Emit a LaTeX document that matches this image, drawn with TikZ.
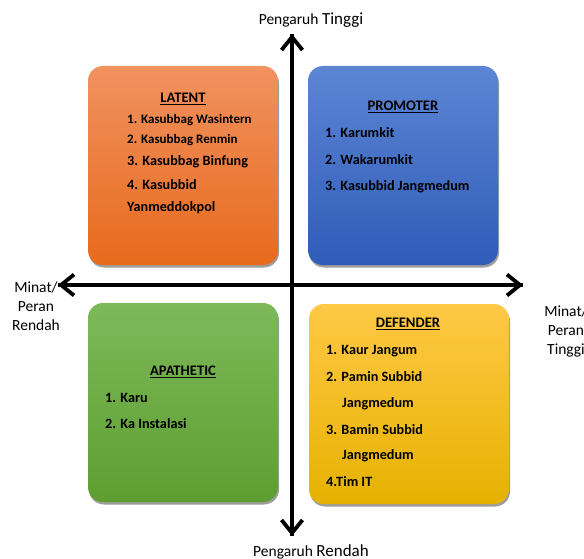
\documentclass[tikz,border=0pt]{standalone}
\usepackage{fontspec}
\setmainfont{Carlito}
\usetikzlibrary{arrows.meta,shadows}
\begin{document}
\begin{tikzpicture}[x=1pt,y=-1pt,
  quad/.style={rounded corners=15pt, minimum width=190pt, minimum height=199pt, inner sep=0pt,
    drop shadow={shadow xshift=1pt, shadow yshift=-2.5pt, opacity=0.55, fill=black!70}},
  ttl/.style={font=\bfseries\fontsize{14.6}{16}\selectfont, inner sep=0pt},
  itm/.style={font=\bfseries\fontsize{14.2}{16}\selectfont, anchor=west, inner sep=0pt},
  itms/.style={font=\bfseries\fontsize{13}{15}\selectfont, anchor=west, inner sep=0pt},
  axlbl/.style={font=\fontsize{15.5}{19}\selectfont, inner sep=0pt, align=center},
  axis/.style={line width=3.8pt, -{Straight Barb[length=13pt,width=21pt,line width=3.8pt]}, shorten >=0pt}
]
\useasboundingbox (0,0) rectangle (584,559);
% boxes
\node[quad, top color={rgb,255:red,241;green,146;blue,96}, bottom color={rgb,255:red,232;green,106;blue,28}] (lat) at (183,165.5) {};
\node[quad, top color={rgb,255:red,92;green,133;blue,212}, bottom color={rgb,255:red,47;green,92;blue,184}] (pro) at (403,165.5) {};
\node[quad, top color={rgb,255:red,125;green,185;blue,90}, bottom color={rgb,255:red,94;green,158;blue,48}] (apa) at (183,402.5) {};
\node[quad, minimum width=200pt, minimum height=200pt, top color={rgb,255:red,255;green,200;blue,70}, bottom color={rgb,255:red,230;green,178;blue,0}] (def) at (409,404) {};
% axes
\coordinate (vt) at (292,34);
\coordinate (vb) at (292,536);
\coordinate (hl) at (58,285);
\coordinate (hr) at (523,285);
\draw[axis] (vb) -- (vt);
\draw[axis] (vt) -- (vb);
\draw[axis] (hr) -- (hl);
\draw[axis] (hl) -- (hr);
% axis labels
\node[axlbl, anchor=base] (top) at (311,25) {{\fontsize{15.5}{17}\selectfont Pengaruh} {\fontsize{17}{19}\selectfont Tinggi}};
\node[axlbl, anchor=base] (bot) at (311,556) {{\fontsize{15.5}{17}\selectfont Pengaruh} {\fontsize{17}{19}\selectfont Rendah}};
\node[axlbl] (left) at (36,306) {Minat/\\Peran\\Rendah};
\node[axlbl] (right) at (566,331) {Minat/\\Peran\\Tinggi};
% LATENT
\node[ttl] (latt) at (183,99) {\underline{LATENT}};
\node[itms] (l1) at (127,120) {1. Kasubbag Wasintern};
\node[itms] (l2) at (127,140) {2. Kasubbag Renmin};
\node[itm] (l3) at (127,162) {3. Kasubbag Binfung};
\node[itm] (l4) at (127,185) {4. Kasubbid};
\node[itm] (l5) at (127,208) {Yanmeddokpol};
% PROMOTER
\node[ttl] (prot) at (403,107) {\underline{PROMOTER}};
\node[itm] (p1) at (325,133) {1. Karumkit};
\node[itm] (p2) at (325,160) {2. Wakarumkit};
\node[itm] (p3) at (325,187) {3. Kasubbid Jangmedum};
% APATHETIC
\node[ttl] (apat) at (183,372) {\underline{APATHETIC}};
\node[itm] (a1) at (105,398) {1. Karu};
\node[itm] (a2) at (105,424) {2. Ka Instalasi};
% DEFENDER
\node[ttl] (deft) at (408,324) {\underline{DEFENDER}};
\node[itm] (d1) at (326,351) {1. Kaur Jangum};
\node[itm] (d2) at (326,377) {2. Pamin Subbid};
\node[itm] (d3) at (342,404) {Jangmedum};
\node[itm] (d4) at (326,430) {3. Bamin Subbid};
\node[itm] (d5) at (342,456) {Jangmedum};
\node[itm] (d6) at (326,482) {4.Tim IT};
\end{tikzpicture}
\end{document}
